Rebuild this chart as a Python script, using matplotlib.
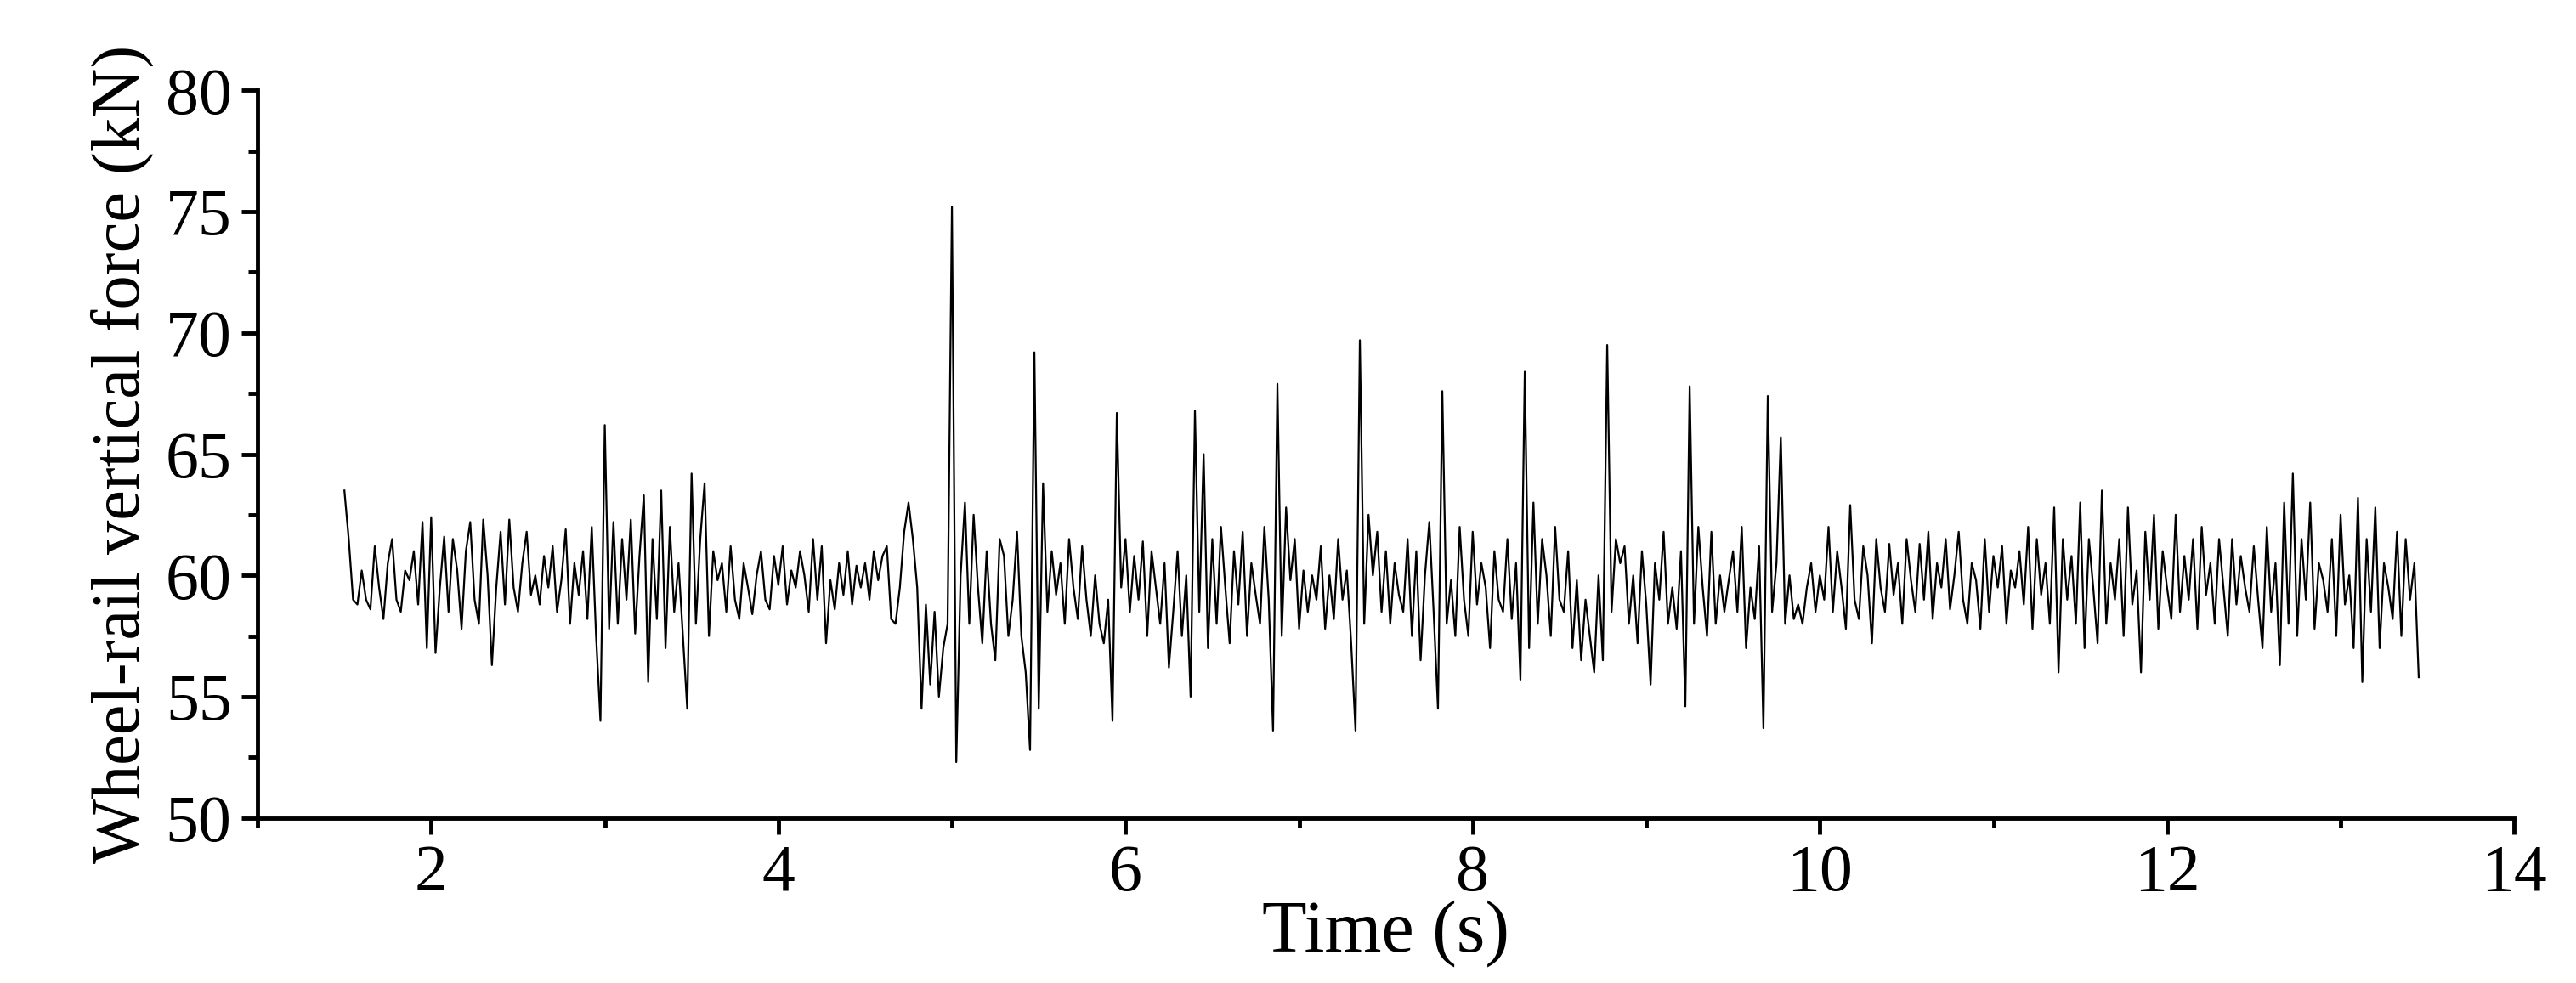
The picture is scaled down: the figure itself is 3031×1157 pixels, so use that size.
import numpy as np
import matplotlib
matplotlib.use("Agg")
import matplotlib.pyplot as plt
from matplotlib.ticker import MultipleLocator

dt = 0.025
seg_starts = [1.5, 2.5, 3.5, 4.5, 5.5, 6.5, 7.5, 8.5, 9.5, 10.5, 11.5, 12.5]
force_15 = [63.5,61.5,59.0,58.8,60.2,59.0,58.6,61.2,59.5,58.2,60.5,61.5,59.0,58.5,60.2,59.8,61.0,58.8,62.2,57.0,62.4,56.8,59.5,61.6,58.5,61.5,60.2,57.8,61.0,62.2,59.0,58.0,62.3,60.0,56.3,59.5,61.8,58.8,62.3,59.5]
force_25 = [58.5,60.5,61.8,59.2,60.0,58.8,60.8,59.5,61.2,58.5,59.8,61.9,58.0,60.5,59.2,61.0,58.2,62.0,57.5,54.0,66.2,57.8,62.2,58.0,61.5,59.0,62.3,57.6,60.8,63.3,55.6,61.5,58.2,63.5,57.0,62.0,58.5,60.5,57.5,54.5]
force_35 = [64.2,58.0,61.5,63.8,57.5,61.0,59.8,60.5,58.5,61.2,59.0,58.2,60.5,59.5,58.4,60.0,61.0,59.0,58.6,60.8,59.6,61.2,58.8,60.2,59.5,61.0,60.0,58.5,61.5,59.0,61.2,57.2,59.8,58.6,60.5,59.2,61.0,58.8,60.4,59.5]
force_45 = [60.5,59.0,61.0,59.8,60.8,61.2,58.2,58.0,59.5,61.8,63.0,61.5,59.5,54.5,58.8,55.5,58.5,55.0,57.0,58.0,75.2,52.3,60.0,63.0,58.0,62.5,59.5,57.2,61.0,58.0,56.5,61.5,60.8,57.5,59.0,61.8,57.5,56.0,52.8,69.2]
force_55 = [54.5,63.8,58.5,61.0,59.2,60.5,58.0,61.5,59.5,58.2,61.2,59.0,57.5,60.0,58.0,57.2,59.0,54.0,66.7,59.5,61.5,58.5,60.8,59.0,61.4,57.5,61.0,59.5,58.0,60.5,56.2,58.5,61.0,57.5,60.0,55.0,66.8,58.5,65.0,57.0]
force_65 = [61.5,58.0,62.0,59.5,57.2,61.0,58.8,61.8,57.5,60.5,59.2,58.0,62.0,59.0,53.6,67.9,57.5,62.8,59.8,61.5,57.8,60.2,58.5,60.0,59.0,61.2,57.8,60.0,58.2,61.5,59.0,60.2,57.2,53.6,69.7,58.0,62.5,60.0,61.8,58.5]
force_75 = [61.0,58.0,60.5,59.2,58.5,61.5,57.5,61.0,56.5,60.0,62.2,58.5,54.5,67.6,58.0,59.8,57.5,62.0,59.0,57.5,61.8,58.8,60.5,59.5,57.0,61.0,59.0,58.5,61.5,58.2,60.5,55.7,68.4,57.0,63.0,58.0,61.5,60.0,57.5,62.0]
force_85 = [59.0,58.5,61.0,57.0,59.8,56.5,59.0,57.5,56.0,60.0,56.5,69.5,58.5,61.5,60.5,61.2,58.0,60.0,57.2,61.0,58.8,55.5,60.5,59.0,61.8,58.0,59.5,57.8,61.0,54.6,67.8,58.0,62.0,59.5,57.5,61.8,58.0,60.0,58.5,59.8]
force_95 = [61.0,58.5,62.0,57.0,59.5,58.2,61.2,53.7,67.4,58.5,60.5,65.7,58.0,60.0,58.2,58.8,58.0,59.5,60.5,58.5,60.0,59.0,62.0,58.5,61.0,59.5,57.8,62.9,59.0,58.2,61.2,60.0,57.2,61.5,59.5,58.5,61.3,59.2,60.5,58.0]
force_105 = [61.5,59.8,58.5,61.3,59.0,61.8,58.2,60.5,59.5,61.5,58.6,60.0,61.8,59.0,58.0,60.5,59.8,57.8,61.5,58.5,60.8,59.5,61.2,58.0,60.2,59.5,61.0,58.8,62.0,57.8,61.5,59.2,60.5,58.0,62.8,56.0,61.5,59.0,60.8,58.0]
force_115 = [63.0,57.0,61.5,59.5,57.2,63.5,58.0,60.5,59.0,61.5,57.5,62.8,58.8,60.2,56.0,61.8,59.0,62.5,57.8,61.0,59.5,58.2,62.5,58.5,60.8,59.0,61.5,57.8,62.0,59.2,60.5,58.0,61.5,59.5,57.5,61.5,58.8,60.8,59.5,58.5]
force_125 = [61.2,59.0,57.0,62.0,58.5,60.5,56.3,63.0,58.0,64.2,57.5,61.5,59.0,63.0,57.8,60.5,59.8,58.5,61.5,57.5,62.5,58.8,60.0,57.0,63.2,55.6,61.5,58.5,62.8,57.0,60.5,59.5,58.2,61.8,57.5,61.5,59.0,60.5,55.8]
segments = [force_15, force_25, force_35, force_45, force_55, force_65,
            force_75, force_85, force_95, force_105, force_115, force_125]

t = np.concatenate([s + dt * np.arange(len(v)) for s, v in zip(seg_starts, segments)])
f = np.concatenate(segments)

plt.rcParams['font.family'] = ['Liberation Serif', 'DejaVu Serif']
fig = plt.figure(figsize=(30.31, 11.57), dpi=100)
ax = fig.add_axes([0.100, 0.168, 0.876, 0.740])
ax.plot(t, f, color='black', linewidth=1.6)
ax.set_xlim(1, 14)
ax.set_ylim(50, 80)
ax.xaxis.set_major_locator(MultipleLocator(2))
ax.xaxis.set_minor_locator(MultipleLocator(1))
ax.yaxis.set_major_locator(MultipleLocator(5))
ax.yaxis.set_minor_locator(MultipleLocator(2.5))
for s in ['top', 'right']:
    ax.spines[s].set_visible(False)
for s in ['left', 'bottom']:
    ax.spines[s].set_linewidth(3.5)
ax.tick_params(which='major', direction='out', length=14, width=3.5, labelsize=56, pad=8)
ax.tick_params(which='minor', direction='out', length=8, width=3.5)
ax.set_xlabel('Time (s)', fontsize=62, labelpad=-4)
ax.set_ylabel('Wheel-rail vertical force (kN)', fontsize=58, labelpad=10)
fig.savefig('out.png', dpi=100)
